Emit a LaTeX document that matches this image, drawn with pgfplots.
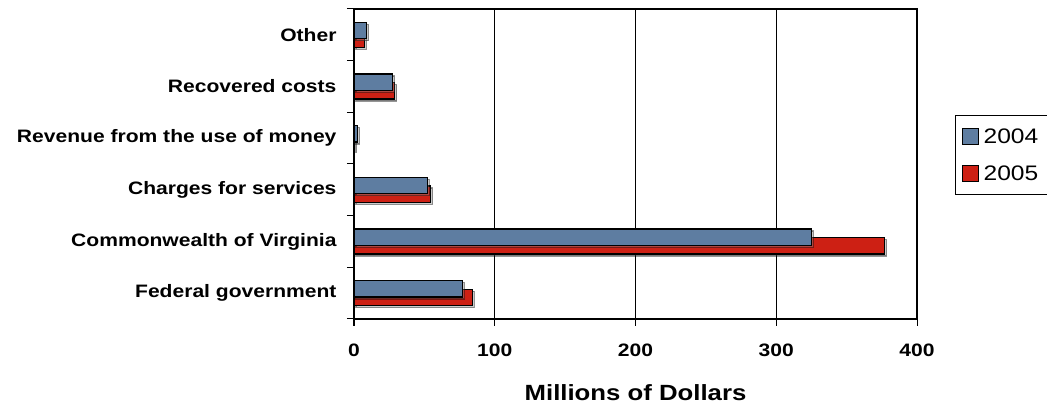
\documentclass[border=0pt]{standalone}
\usepackage{fontspec}
\setmainfont[FakeStretch=1.17]{Liberation Sans}
\usepackage{pgfplots}
\pgfplotsset{compat=1.18}
\usetikzlibrary{shadows}
\definecolor{blue04}{RGB}{94,125,161}
\definecolor{red05}{RGB}{205,32,20}
\pgfplotsset{sqlegend/.style={legend image code/.code={\draw[##1, line width=1.2pt] (0pt,-8pt) rectangle (16.5pt,8pt); \path (19pt,0pt);}}}
\begin{document}
\begin{tikzpicture}
\path[use as bounding box] (0,0) rectangle (1047pt,404pt);
\begin{axis}[
  xbar, bar width=16.5pt,
  at={(354pt,85pt)}, anchor=south west,
  scale only axis, width=563pt, height=310pt,
  xmin=0, xmax=400, ymin=-0.5, ymax=5.5,
  xtick={0,100,200,300,400},
  ytick={-0.5,0.5,1.5,2.5,3.5,4.5,5.5},
  yticklabels={,,,,,,},
  extra y ticks={0,1,2,3,4,5},
  extra y tick labels={Federal government, Commonwealth of Virginia, Charges for services, Revenue from the use of money, Recovered costs, Other},
  extra y tick style={tick style={draw=none}},
  major tick length=7pt,
  tick align=outside,
  tick pos=left,
  tick style={black, line width=1pt},
  xmajorgrids, grid style={black, line width=0.8pt},
  axis line style={line width=1.6pt},
  /pgf/number format/assume math mode=true,
  xticklabel style={font=\bfseries\fontsize{18}{18}\selectfont, yshift=-14pt},
  yticklabel style={font=\bfseries\fontsize{18}{18}\selectfont, xshift=-7pt},
  xlabel={Millions of Dollars},
  xlabel style={font=\bfseries\fontsize{22}{22}\selectfont, at={(axis description cs:0.5,-0.239)}, anchor=center},
  legend style={at={(axis description cs:1.0675,0.658)}, anchor=north west, draw=black, line width=1pt,
    font=\fontsize{21}{21}\selectfont, row sep=17pt, inner xsep=6pt, inner ysep=11pt},
  legend cell align=left,
]
\addlegendimage{sqlegend, fill=blue04, draw=black}
\addlegendentry{2004\rule{14pt}{0pt}}
\addlegendimage{sqlegend, fill=red05, draw=black}
\addlegendentry{2005\rule{14pt}{0pt}}
\addplot[forget plot, fill=red05, draw=black, line width=1.3pt, bar shift=-4.3pt,
  drop shadow={shadow xshift=2pt, shadow yshift=-2pt, opacity=0.4, fill=black!50}]
  coordinates {(84,0) (377,1) (54.5,2) (0.5,3) (29,4) (7.3,5)};
\addplot[forget plot, fill=blue04, draw=black, line width=1.3pt, bar shift=4.3pt,
  drop shadow={shadow xshift=2pt, shadow yshift=-2pt, opacity=0.4, fill=black!50}]
  coordinates {(77,0) (325,1) (52,2) (2.6,3) (27.5,4) (9,5)};
\end{axis}
\end{tikzpicture}
\end{document}
